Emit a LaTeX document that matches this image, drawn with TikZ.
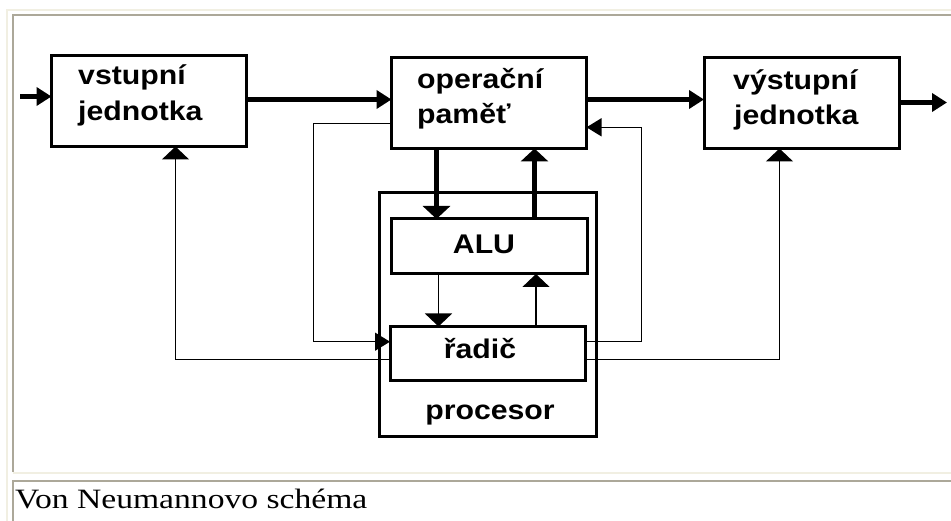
\documentclass[tikz,border=0pt]{standalone}
\usepackage{fontspec}
\setmainfont{Liberation Serif}
\newfontfamily\labfont[FakeStretch=1.12]{Liberation Sans}
\newfontfamily\capfont[FakeStretch=1.2]{Liberation Serif}
\usetikzlibrary{arrows.meta}
\definecolor{framelight}{HTML}{F1EFE2}
\definecolor{framedark}{HTML}{ACA899}
\begin{document}
\begin{tikzpicture}[x=1pt,y=-1pt,
  box/.style={draw, line width=3pt, inner sep=0pt, outer sep=0pt},
  lab/.style={font=\labfont\bfseries\fontsize{27}{27}\selectfont, inner sep=0pt, anchor=base west},
  clab/.style={lab, anchor=base},
  bus/.style={line width=5pt},
  wire/.style={line width=1.4pt},
  hhead/.style={-{Triangle[length=15pt,width=18pt]}},
  vhead/.style={-{Triangle[length=13pt,width=27pt]}}]
\useasboundingbox (0,0) rectangle (951,521);
\fill[white] (0,0) rectangle (951,521);

% table frame round the figure and its caption
\draw[framelight, line width=2pt] (7,521) -- (7,10) -- (951,10);
\draw[framedark, line width=2pt] (13,472) -- (13,15.5) -- (951,15.5);
\draw[framelight, line width=2pt] (13,473) -- (951,473);
\draw[framedark, line width=2pt] (13,521) -- (13,480.5) -- (951,480.5);

% units
\node[box, minimum width=195pt, minimum height=91pt] (vst) at (149,101) {};
\node[box, minimum width=195pt, minimum height=90.5pt] (op) at (489,103.25) {};
\node[box, minimum width=195.5pt, minimum height=90.5pt] (vyst) at (801.75,103.25) {};
\node[box, minimum width=216.5pt, minimum height=243.5pt] (proc) at (487.75,314.75) {};
\node[box, minimum width=196pt, minimum height=55pt] (alu) at (489,246.5) {};
\node[box, minimum width=195.5pt, minimum height=54.5pt] (rad) at (487.75,353.75) {};

% texts
\node[lab] (vst1) at (78,85) {vstupní};
\node[lab] (vst2) at (78,121) {jednotka};
\node[lab] (op1) at (417,89) {operační};
\node[lab] (op2) at (417,124) {paměť};
\node[lab] (vyst1) at (733,90) {výstupní};
\node[lab] (vyst2) at (734,125) {jednotka};
\node[clab] (alut) at (484,254) {ALU};
\node[clab] (radt) at (480,359) {řadič};
\node[clab] (proct) at (490,420) {procesor};
\node[inner sep=0pt, anchor=base west, font=\capfont\fontsize{28}{28}\selectfont] (cap) at (15,508) {Von Neumannovo schéma};

% helper points for the wire routes
\coordinate (in) at (20,96.5);
\coordinate (out) at (947,102.5);
\coordinate (ya) at (0,99.5);
\coordinate (xa) at (436.5,0);
\coordinate (xb) at (534.5,0);
\coordinate (xc) at (438.5,0);
\coordinate (xd) at (536,0);
\coordinate (c1) at (313.3,123.3);
\coordinate (c2) at (313.3,341.7);
\coordinate (c3) at (641.5,341.7);
\coordinate (c4) at (641.5,127.3);
\coordinate (c5) at (175.5,359.3);
\coordinate (c6) at (779.5,359.3);

% data buses
\draw[bus, hhead] (in) -- (in -| vst.west);
\draw[bus, hhead] (vst.east |- ya) -- (op.west |- ya);
\draw[bus, hhead] (op.east |- ya) -- (vyst.west |- ya);
\draw[bus, hhead] (vyst.east |- out) -- (out);
\draw[bus, vhead] (xa |- op.south) -- (xa |- alu.north);
\draw[bus, vhead] (xb |- alu.north) -- (xb |- op.south);

% control wires
\draw[wire, vhead] (xc |- alu.south) -- (xc |- rad.north);
\draw[wire, vhead] (xd |- rad.north) -- (xd |- alu.south);
\draw[wire, hhead] (op.west |- c1) -- (c1) -- (c2) -- (rad.west |- c2);
\draw[wire, hhead] (rad.east |- c3) -- (c3) -- (c4) -- (op.east |- c4);
\draw[wire, vhead] (rad.west |- c5) -- (c5) -- (c5 |- vst.south);
\draw[wire, vhead] (rad.east |- c6) -- (c6) -- (c6 |- vyst.south);
\end{tikzpicture}
\end{document}
